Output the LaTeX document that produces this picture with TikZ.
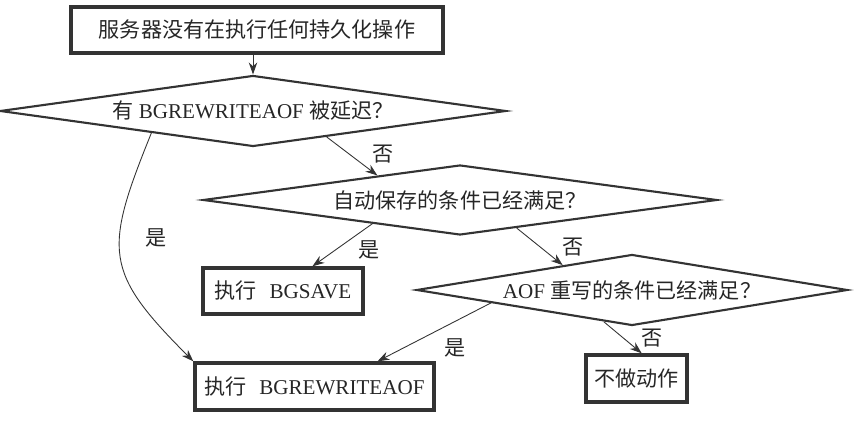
\documentclass[tikz,border=0pt]{standalone}
\usepackage{fontspec}
\setmainfont{Liberation Serif}
\newfontfamily\cjk{Noto Sans CJK SC}
\usetikzlibrary{shapes.geometric,arrows.meta,calc}

\begin{document}
\begin{tikzpicture}[
  font=\fontsize{12}{14}\selectfont,
  box/.style={draw=black!80, text=black!85, rectangle, line width=1.9pt, inner sep=0pt},
  test/.style={draw=black!80, text=black!85, diamond, line width=1.2pt, inner sep=0pt},
  link/.style={draw=black!80, line width=0.5pt, -{Stealth[length=2.4mm,width=1.7mm]}},
  tag/.style={text=black!85, inner sep=0pt}
]
\useasboundingbox (0,0) rectangle (17.28,-8.44);

\node[box, minimum width=7.44cm, minimum height=0.92cm] (S) at (5.14,-0.60)
  {\cjk 服务器没有在执行任何持久化操作};

\node[test, aspect=7.13, minimum width=10.12cm, minimum height=1.42cm] (D1) at (5.06,-2.22)
  {{\cjk 有} BGREWRITEAOF {\cjk 被延迟？}};
\node[test, aspect=7.34, minimum width=10.28cm, minimum height=1.40cm] (D2) at (9.20,-4.00)
  {\cjk 自动保存的条件已经满足？};
\node[test, aspect=6.07, minimum width=8.62cm, minimum height=1.42cm] (D3) at (12.64,-5.80)
  {AOF {\cjk 重写的条件已经满足？}};

\node[box, minimum width=3.20cm, minimum height=0.92cm] (B) at (5.66,-5.82)
  {{\cjk 执行}\hspace{0.6em}BGSAVE};
\node[box, minimum width=4.78cm, minimum height=0.94cm] (R) at (6.29,-7.73)
  {{\cjk 执行}\hspace{0.6em}BGREWRITEAOF};
\node[box, minimum width=2.02cm, minimum height=0.94cm] (N) at (12.73,-7.57)
  {\cjk 不做动作};

% branch labels
\node[tag] (n1) at (7.66,-3.08) {\cjk 否};
\node[tag] (y1) at (3.12,-4.76) {\cjk 是};
\node[tag] (y2) at (7.38,-5.00) {\cjk 是};
\node[tag] (n2) at (11.46,-4.94) {\cjk 否};
\node[tag] (y3) at (9.10,-6.96) {\cjk 是};
\node[tag] (n3) at (13.04,-6.76) {\cjk 否};

\draw[link] (S.south -| D1.north) -- (D1.north);
\draw[link] ($(D1.south)!0.29!(D1.east)$) -- ($(D2.west)!0.68!(D2.north)$);
\draw[link] ($(D1.west)!0.6!(D1.south)$)
  to[out=248, in=135, looseness=1.4] (R.north west);
\draw[link] ($(D2.west)!0.66!(D2.south)$) -- ($(B.north west)!0.68!(B.north east)$);
\draw[link] ($(D2.south)!0.22!(D2.east)$) -- ($(D3.west)!0.68!(D3.north)$);
\draw[link] ($(D3.west)!0.35!(D3.south)$) -- ($(R.north west)!0.76!(R.north east)$);
\draw[link] ($(D3.west)!0.87!(D3.south)$) -- ($(N.north west)!0.55!(N.north east)$);
\end{tikzpicture}
\end{document}
